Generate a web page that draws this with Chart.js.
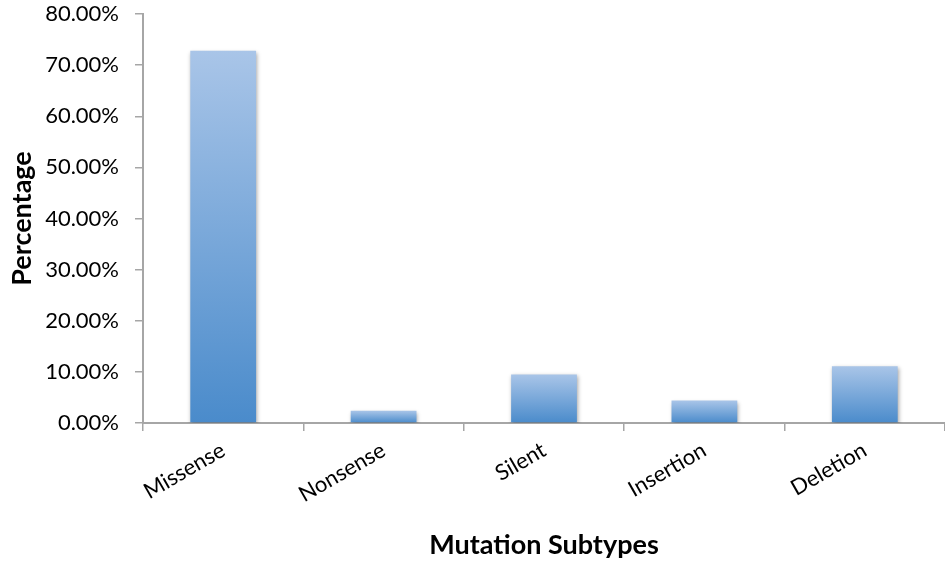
<!DOCTYPE html>
<html>
<head>
<meta charset="utf-8">
<script src="https://cdn.jsdelivr.net/npm/chart.js@4/dist/chart.umd.min.js"></script>
<style>
  html, body { margin: 0; padding: 0; background: #ffffff; }
  #wrap { width: 945px; height: 562px; position: relative; }
</style>
</head>
<body>
<div id="wrap"><canvas id="c" width="945" height="562"></canvas></div>
<script>
// Mutation subtype shares (percent)
const categories = ['Missense', 'Nonsense', 'Silent', 'Insertion', 'Deletion'];
const percentages = [72.8, 2.4, 9.5, 4.4, 11.1];
const yTicks = [0, 10, 20, 30, 40, 50, 60, 70, 80];

const FONT = 'Lato, "Open Sans", sans-serif';
const AXIS_GREY = '#a6a6a6';

// Vertical gradient for each bar: light at its top, deeper blue at its base
function barGradient(context) {
  const chart = context.chart;
  const { ctx, chartArea, scales } = chart;
  if (!chartArea || !scales.y) return '#6fa0d8';
  const v = context.raw;
  const top = scales.y.getPixelForValue(v);
  const base = scales.y.getPixelForValue(0);
  if (!isFinite(top) || !isFinite(base) || top === base) return '#6fa0d8';
  const g = ctx.createLinearGradient(0, top, 0, base);
  g.addColorStop(0, '#a9c5e8');
  g.addColorStop(1, '#4a8bcb');
  return g;
}

// Soft drop shadow beneath the bars
const barShadow = {
  id: 'barShadow',
  beforeDatasetsDraw(chart) {
    const c = chart.ctx;
    c.save();
    c.shadowColor = 'rgba(0,0,0,0.35)';
    c.shadowBlur = 4;
    c.shadowOffsetX = 1;
    c.shadowOffsetY = 2;
  },
  afterDatasetsDraw(chart) {
    chart.ctx.restore();
  }
};

new Chart(document.getElementById('c'), {
  type: 'bar',
  data: {
    labels: categories,
    datasets: [{
      data: percentages,
      backgroundColor: barGradient,
      borderWidth: 0,
      barPercentage: 0.41,
      categoryPercentage: 1.0
    }]
  },
  plugins: [barShadow],
  options: {
    responsive: false,
    animation: false,
    layout: { padding: { top: 14, right: 0, left: 6, bottom: 1 } },
    plugins: {
      legend: { display: false },
      tooltip: { enabled: false }
    },
    scales: {
      x: {
        offset: true,
        afterFit(scale) {
          scale.height = 138;
        },
        grid: {
          display: true,
          offset: true,
          drawOnChartArea: false,
          drawTicks: true,
          tickLength: 8,
          color: AXIS_GREY,
          lineWidth: 1.5
        },
        border: { display: true, color: AXIS_GREY, width: 2 },
        ticks: {
          color: '#000000',
          font: { family: FONT, size: 22 },
          maxRotation: 30,
          minRotation: 30,
          padding: 6
        },
        title: {
          display: true,
          text: 'Mutation Subtypes',
          color: '#000000',
          font: { family: FONT, size: 27, weight: 'bold' },
          padding: { top: 6, bottom: 0 }
        }
      },
      y: {
        min: 0,
        max: 80,
        afterBuildTicks(scale) {
          scale.ticks = yTicks.map(v => ({ value: v }));
        },
        afterFit(scale) {
          scale.width = 137;
          scale.paddingTop = 0;
          scale.paddingBottom = 0;
        },
        grid: {
          display: true,
          drawOnChartArea: false,
          drawTicks: true,
          tickLength: 8,
          color: AXIS_GREY,
          lineWidth: 1.5
        },
        border: { display: true, color: AXIS_GREY, width: 2 },
        ticks: {
          color: '#000000',
          font: { family: FONT, size: 22 },
          padding: 16,
          callback: v => v.toFixed(2) + '%'
        },
        title: {
          display: true,
          text: 'Percentage',
          color: '#000000',
          font: { family: FONT, size: 27, weight: 'bold' },
          padding: { top: 0, bottom: 4 }
        }
      }
    }
  }
});
</script>
</body>
</html>
